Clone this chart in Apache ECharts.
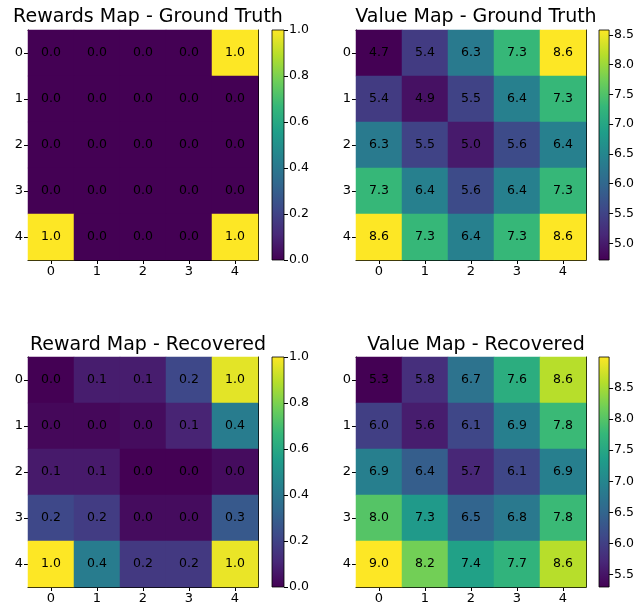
<!DOCTYPE html>
<html>
<head>
<meta charset="utf-8">
<script src="https://cdn.jsdelivr.net/npm/echarts@6/dist/echarts.min.js"></script>
<style>
html,body{margin:0;padding:0;background:#fff;}
#chart{width:637px;height:605px;}
</style>
</head>
<body>
<div id="chart"></div>
<script>
// ---------- data ----------
const cats = ['0', '1', '2', '3', '4'];

const rewardsTruth = [
  [0.0, 0.0, 0.0, 0.0, 1.0],
  [0.0, 0.0, 0.0, 0.0, 0.0],
  [0.0, 0.0, 0.0, 0.0, 0.0],
  [0.0, 0.0, 0.0, 0.0, 0.0],
  [1.0, 0.0, 0.0, 0.0, 1.0]
];
const valueTruth = [
  [4.72, 5.4, 6.3, 7.3, 8.58],
  [5.4, 4.9, 5.5, 6.4, 7.3],
  [6.3, 5.5, 5.0, 5.6, 6.4],
  [7.3, 6.4, 5.6, 6.4, 7.3],
  [8.58, 7.3, 6.4, 7.3, 8.58]
];
const rewardsRecovered = [
  [0.00, 0.08, 0.08, 0.22, 0.96],
  [0.02, 0.02, 0.03, 0.10, 0.42],
  [0.07, 0.07, 0.00, 0.00, 0.03],
  [0.22, 0.18, 0.03, 0.03, 0.28],
  [1.00, 0.42, 0.17, 0.17, 0.97]
];
const valueRecovered = [
  [5.3, 5.8, 6.7, 7.6, 8.6],
  [6.0, 5.6, 6.1, 6.9, 7.8],
  [6.9, 6.4, 5.7, 6.1, 6.9],
  [8.0, 7.3, 6.5, 6.8, 7.8],
  [9.0, 8.2, 7.4, 7.7, 8.6]
];

const rewardTicks = [0.0, 0.2, 0.4, 0.6, 0.8, 1.0];
const valueTruthTicks = [5.0, 5.5, 6.0, 6.5, 7.0, 7.5, 8.0, 8.5];
const valueRecoveredTicks = [5.5, 6.0, 6.5, 7.0, 7.5, 8.0, 8.5];

const titles = [
  'Rewards Map - Ground Truth',
  'Value Map - Ground Truth',
  'Reward Map - Recovered',
  'Value Map - Recovered'
];

const viridis = ['#440154', '#482878', '#3e4989', '#31688e', '#26828e',
                 '#1f9e89', '#35b779', '#6ece58', '#b5de2b', '#fde725'];

// ---------- layout ----------
const FONT = 'DejaVu Sans';
const panels = [
  { mat: rewardsTruth,     ticks: rewardTicks,         range: [0, 1], hm: {left: 28,  top: 30,  width: 230, height: 230}, cb: {left: 272, top: 30,  width: 12, height: 230} },
  { mat: valueTruth,       ticks: valueTruthTicks,     range: null,   hm: {left: 356, top: 30,  width: 230, height: 230}, cb: {left: 599, top: 30,  width: 12, height: 230} },
  { mat: rewardsRecovered, ticks: rewardTicks,         range: [0, 1], hm: {left: 28,  top: 357, width: 230, height: 230}, cb: {left: 272, top: 357, width: 12, height: 230} },
  { mat: valueRecovered,   ticks: valueRecoveredTicks, range: null,   hm: {left: 356, top: 357, width: 230, height: 230}, cb: {left: 599, top: 357, width: 12, height: 230} }
];
const titleTops = [3, 3, 331, 331];

const grid = [], xAxis = [], yAxis = [], series = [], visualMap = [], title = [];

panels.forEach((p, i) => {
  const data = [];
  p.mat.forEach((row, r) => row.forEach((v, c) => data.push([c, r, v])));
  const flat = p.mat.flat();
  const vmin = p.range ? p.range[0] : Math.min(...flat);
  const vmax = p.range ? p.range[1] : Math.max(...flat);

  const gH = grid.length;
  grid.push(Object.assign({containLabel: false}, p.hm));
  const gC = grid.length;
  grid.push(Object.assign({containLabel: false}, p.cb));

  const axLine = {show: true, lineStyle: {color: '#000', width: 1}};
  const tick = {show: true, alignWithLabel: true, length: 4, inside: false, lineStyle: {color: '#000', width: 1}};
  const lbl = {show: true, color: '#000', fontSize: 13, fontFamily: FONT, margin: 5};

  const xb = xAxis.length;
  xAxis.push({type: 'category', gridIndex: gH, data: cats, position: 'bottom', boundaryGap: true,
              axisLine: axLine, axisTick: tick, axisLabel: lbl, splitLine: {show: false}});
  xAxis.push({type: 'category', gridIndex: gH, data: cats, position: 'top', boundaryGap: true,
              axisLine: axLine, axisTick: {show: false}, axisLabel: {show: false}, splitLine: {show: false}});
  const yl = yAxis.length;
  yAxis.push({type: 'category', gridIndex: gH, data: cats, position: 'left', inverse: true, boundaryGap: true,
              axisLine: axLine, axisTick: tick, axisLabel: lbl, splitLine: {show: false}});
  yAxis.push({type: 'category', gridIndex: gH, data: cats, position: 'right', inverse: true, boundaryGap: true,
              axisLine: axLine, axisTick: {show: false}, axisLabel: {show: false}, splitLine: {show: false}});

  const xc = xAxis.length;
  xAxis.push({type: 'category', gridIndex: gC, data: ['cb'], show: false});
  const yc = yAxis.length;
  yAxis.push({type: 'value', gridIndex: gC, min: vmin, max: vmax, position: 'right',
              axisLine: {show: false},
              axisTick: {show: true, length: 4, lineStyle: {color: '#000', width: 1}, customValues: p.ticks},
              axisLabel: {show: true, color: '#000', fontSize: 12.5, fontFamily: FONT, margin: 5,
                          customValues: p.ticks, formatter: v => v.toFixed(1)},
              splitLine: {show: false}});

  const sIdx = series.length;
  series.push({
    type: 'heatmap', xAxisIndex: xb, yAxisIndex: yl, data: data,
    label: {show: true, color: '#000', fontSize: 12.5, fontFamily: FONT,
            formatter: prm => prm.value[2].toFixed(1)},
    itemStyle: {borderWidth: 0},
    emphasis: {disabled: true},
    progressive: 0, animation: false
  });
  visualMap.push({type: 'continuous', show: false, seriesIndex: sIdx, dimension: 2,
                  min: vmin, max: vmax, inRange: {color: viridis}});

  const stops = viridis.map((c, k) => ({offset: k / (viridis.length - 1), color: c}));
  series.push({
    type: 'custom', xAxisIndex: xc, yAxisIndex: yc, data: [[0, vmin, vmax]],
    silent: true, animation: false,
    renderItem: (params, api) => {
      const pLo = api.coord([0, api.value(1)]);
      const pHi = api.coord([0, api.value(2)]);
      const cs = params.coordSys;
      return {type: 'rect',
              shape: {x: cs.x, y: pHi[1], width: cs.width, height: pLo[1] - pHi[1]},
              style: {fill: new echarts.graphic.LinearGradient(0, 1, 0, 0, stops),
                      stroke: '#000', lineWidth: 0.8}};
    }
  });

  title.push({text: titles[i], left: p.hm.left + p.hm.width / 2, top: titleTops[i], textAlign: 'center',
              textStyle: {fontFamily: FONT, fontSize: 19, fontWeight: 'normal', color: '#000'}});
});

const chart = echarts.init(document.getElementById('chart'), null, {renderer: 'canvas'});
chart.setOption({
  animation: false,
  backgroundColor: '#fff',
  title, grid, xAxis, yAxis, visualMap, series
});
</script>
</body>
</html>
